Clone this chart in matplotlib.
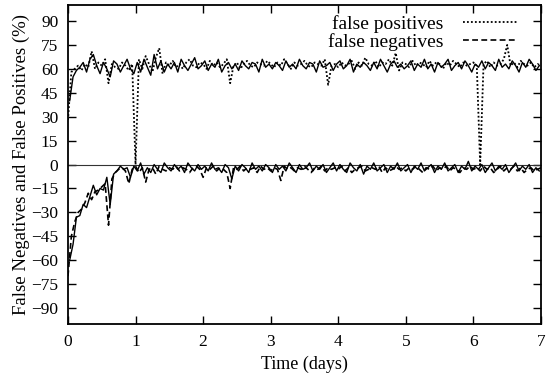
import numpy as np
import matplotlib
matplotlib.use("Agg")
import matplotlib.pyplot as plt

plt.rcParams['font.family'] = ['Liberation Serif', 'DejaVu Serif']

# sampled every 0.05 days (dotted / dashed series)
days = np.arange(141) * 0.05
false_pos = [
    28, 58, 60, 62, 59, 63, 61, 71, 60, 64,
    62, 66, 51, 63, 61, 60, 64, 62, 59, 63,
    0, 66, 60, 68, 63, 58, 67, 73, 57, 64,
    62, 65, 61, 63, 60, 64, 66, 62, 61, 64,
    63, 60, 65, 62, 64, 61, 63, 66, 51, 62,
    64, 60, 63, 65, 62, 61, 64, 63, 62, 65,
    63, 61, 64, 62, 66, 63, 60, 64, 62, 63,
    65, 62, 61, 64, 63, 62, 66, 50, 62, 63,
    61, 64, 62, 63, 65, 60, 64, 62, 67, 63,
    62, 65, 61, 64, 63, 66, 62, 70, 59, 64,
    63, 61, 65, 62, 64, 63, 61, 65, 62, 64,
    63, 60, 64, 62, 65, 63, 61, 64, 62, 63,
    64, 62, 0, 63, 65, 61, 64, 62, 63, 66,
    75, 62, 64, 61, 65, 63, 62, 64, 61, 63,
    62]
false_neg = [
    -70, -45, -36, -30, -28, -24, -18, -22, -17, -16,
    -14, -12, -38, -9, -5, -3, -2, -4, -12, -3,
    -1, -5, -2, -11, -3, -2, -6, -1, -3, -4,
    -2, -3, -1, -4, -2, -3, -5, -2, -1, -3,
    -8, -2, -3, -1, -4, -2, -3, -5, -15, -2,
    -3, -1, -4, -2, -3, -2, -5, -1, -3, -2,
    -4, -2, -3, -10, -1, -3, -2, -4, -2, -3,
    -1, -3, -5, -2, -3, -1, -4, -2, -3, -2,
    -3, -1, -4, -2, -5, -3, -2, -1, -4, -3,
    -2, -3, -1, -5, -2, -4, -3, -1, -3, -2,
    -4, -2, -3, -1, -3, -5, -2, -3, -1, -4,
    -2, -3, -1, -4, -2, -3, -5, -2, -3, -1,
    -3, -2, -4, -1, -3, -2, -5, -3, -1, -4,
    -2, -3, -1, -4, -2, -5, -3, -2, -4, -3,
    -2]

# per-sample raw values, offset half a step (solid traces)
days_raw = np.arange(140) * 0.05 + 0.025
fp_raw = [
    40, 55, 59, 61, 64, 58, 66, 69, 62, 57,
    64, 60, 55, 65, 63, 58, 62, 66, 60, 57,
    64, 58, 66, 61, 56, 69, 60, 65, 58, 63,
    60, 64, 58, 66, 62, 59, 63, 67, 60, 62,
    65, 59, 63, 61, 66, 58, 62, 64, 60, 63,
    59, 65, 62, 60, 64, 63, 58, 66, 61, 63,
    60, 64, 62, 59, 65, 61, 63, 60, 66, 62,
    60, 64, 63, 58, 65, 61, 62, 64, 59, 63,
    65, 60, 62, 66, 58, 63, 61, 64, 62, 59,
    64, 60, 66, 62, 58, 63, 65, 61, 63, 60,
    62, 65, 59, 63, 61, 66, 60, 63, 58, 64,
    61, 63, 66, 59, 62, 64, 60, 65, 62, 58,
    63, 61, 65, 60, 64, 62, 59, 66, 61, 63,
    60, 65, 62, 58, 64, 61, 66, 63, 59, 62]
fn_raw = [
    -60, -50, -33, -32, -25, -27, -20, -13, -19, -15,
    -16, -8, -25, -6, -4, -1, -3, -2, -8, -1,
    -4, 1, -6, -2, -5, 0, -3, -5, 1, -2,
    -4, 0, -3, -1, -5, 1, -2, -4, 0, -3,
    -1, -4, 1, -3, -2, -5, 0, -2, -9, -1,
    -4, 0, -2, -5, 1, -3, -1, -4, 0, -2,
    -5, 0, -3, -1, -4, 1, -2, -5, 0, -3,
    -2, 1, -4, -1, -3, 0, -5, -2, 1, -4,
    0, -3, -5, 1, -2, -4, 0, -6, -1, -3,
    1, -4, -2, 0, -5, -1, -3, 1, -4, -2,
    0, -5, -1, -3, 1, -4, -2, 0, -5, -1,
    -3, 1, -4, -2, 0, -5, -1, -3, 2, -4,
    -1, -3, 0, -5, -2, 1, -4, -1, -3, 0,
    -5, -2, 1, -4, -1, -3, 0, -5, -2, -4]

y_ticks = [90, 75, 60, 45, 30, 15, 0, -15, -30, -45, -60, -75, -90]

fig = plt.figure(figsize=(5.54, 3.89), dpi=100)
ax = fig.add_axes([0.1227, 0.167, 0.8538, 0.820])

ax.axhline(0, color='#333333', lw=0.8)
ax.plot(days_raw, fp_raw, color='black', lw=1.0)
ax.plot(days_raw, fn_raw, color='black', lw=1.0)
ax.plot(days, false_pos, color='black', lw=1.3, ls=(0, (1, 1.2)),
        label='false positives')
ax.plot(days, false_neg, color='black', lw=1.2, ls=(0, (3.5, 2)),
        label='false negatives')

ax.set_xlim(0, 7)
ax.set_ylim(-100, 100)
ax.set_yticks(y_ticks)
ax.set_xticks(range(8))
ax.tick_params(direction='in', length=6, width=1, top=True, right=True,
               labelsize=12.5, pad=7)
for s in ax.spines.values():
    s.set_linewidth(1.3)

ax.set_xlabel('Time (days)', fontsize=13, labelpad=4)
ax.set_ylabel('False Negatives and False Positives (%)', fontsize=13.5,
              labelpad=1)

ax.legend(loc='upper right', frameon=False, markerfirst=False, fontsize=14,
          handlelength=2.8, handletextpad=1.0, labelspacing=0.0,
          borderaxespad=0.1, bbox_to_anchor=(0.97, 1.0))

fig.savefig('out.png', dpi=100)
